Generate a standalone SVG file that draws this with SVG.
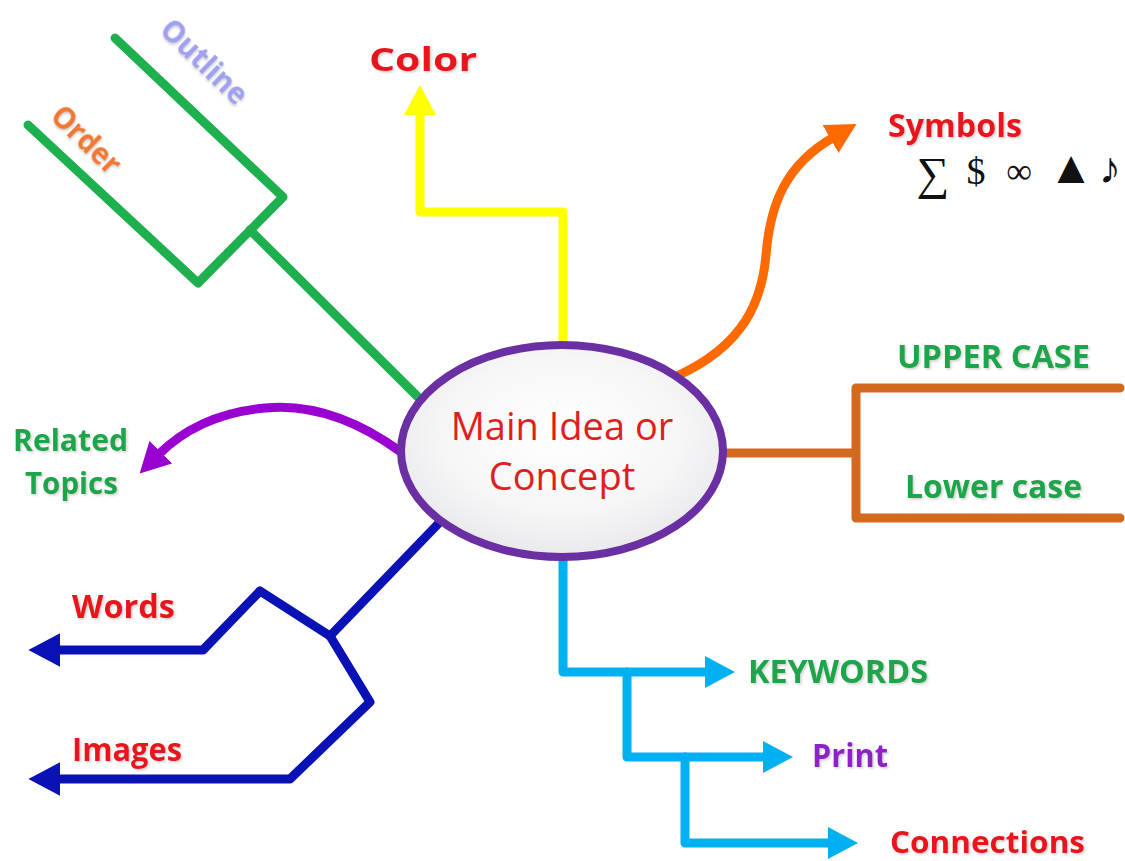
<svg xmlns="http://www.w3.org/2000/svg" width="1125" height="861" viewBox="0 0 1125 861">
<style>
.ln{fill:none;stroke-linecap:round;stroke-linejoin:round;stroke-width:9}
.lbl{font-family:"Open Sans","Liberation Sans",Arial,sans-serif;font-weight:bold;filter:url(#sh)}
.red{fill:#E8161E}.grn{fill:#1AA54B}
.sym{font-family:"Liberation Serif","DejaVu Serif",serif;fill:#111;text-anchor:middle}
</style>
<defs>
<filter id="sh" x="-10%" y="-20%" width="130%" height="150%">
<feDropShadow dx="1.5" dy="1.5" stdDeviation="1" flood-color="#888" flood-opacity="0.4"/>
</filter>
<radialGradient id="eg" cx="50%" cy="42%" r="62%">
<stop offset="0" stop-color="#ffffff"/><stop offset="0.6" stop-color="#f6f6f7"/><stop offset="1" stop-color="#e6e6ea"/>
</radialGradient>
<marker id="aY" viewBox="0 0 30 32" refX="4" refY="16" markerWidth="30" markerHeight="32" markerUnits="userSpaceOnUse" orient="auto"><path d="M0,0 L30,16 L0,32 z" fill="#FFFF00"/></marker>
<marker id="aO" viewBox="0 0 30 32" refX="4" refY="16" markerWidth="30" markerHeight="32" markerUnits="userSpaceOnUse" orient="auto"><path d="M0,0 L30,16 L0,32 z" fill="#FF6A00"/></marker>
<marker id="aP" viewBox="0 0 30 32" refX="4" refY="16" markerWidth="30" markerHeight="32" markerUnits="userSpaceOnUse" orient="auto"><path d="M0,0 L30,16 L0,32 z" fill="#9A00D0"/></marker>
<marker id="aB" viewBox="0 0 30 32" refX="4" refY="16" markerWidth="32" markerHeight="34" markerUnits="userSpaceOnUse" orient="auto"><path d="M0,0 L30,16 L0,32 z" fill="#0A12B5"/></marker>
<marker id="aC" viewBox="0 0 30 32" refX="4" refY="16" markerWidth="30" markerHeight="32" markerUnits="userSpaceOnUse" orient="auto"><path d="M0,0 L30,16 L0,32 z" fill="#00B0F0"/></marker>
</defs>
<rect width="1125" height="861" fill="#ffffff"/>
<g id="connectors">
<g stroke="#1EAF4E">
<path class="ln" d="M421,400 L250,230"/>
<path class="ln" d="M115,38 L283,197 L198,283 L28,125"/>
</g>
<path class="ln" stroke="#FFFF00" d="M563,347 L563,212 L420,212 L420,111" marker-end="url(#aY)"/>
<path class="ln" stroke="#FF6A00" d="M677,376 C745,345 762,300 766,255 C770,205 785,165 834,137" marker-end="url(#aO)"/>
<path class="ln" stroke="#D2691E" d="M722,453 L856,453 M1120,388 L856,388 L856,518 L1120,518"/>
<path class="ln" stroke="#9A00D0" d="M401,452 C350,415 305,404 265,408 C220,412 185,428 158,455" marker-end="url(#aP)"/>
<g stroke="#0A12B5">
<path class="ln" d="M438,524 L330,636"/>
<path class="ln" d="M330,636 L260,591 L203,650 L56,650" marker-end="url(#aB)"/>
<path class="ln" d="M330,636 L370,702 L290,779 L56,779" marker-end="url(#aB)"/>
</g>
<g stroke="#00B0F0">
<path class="ln" d="M563,558 L563,672 L709,672" marker-end="url(#aC)"/>
<path class="ln" d="M627,672 L627,757 L767,757" marker-end="url(#aC)"/>
<path class="ln" d="M685,757 L685,843 L832,843" marker-end="url(#aC)"/>
</g>
</g>
<g id="center">
<ellipse cx="562" cy="451" rx="161" ry="106" fill="url(#eg)" stroke="#6A2FA3" stroke-width="8"/>
<text x="562" y="440" text-anchor="middle" font-family="'Open Sans','Liberation Sans',sans-serif" font-size="38" fill="#E01E1E">Main Idea or</text>
<text x="562" y="490" text-anchor="middle" font-family="'Open Sans','Liberation Sans',sans-serif" font-size="38" fill="#E01E1E">Concept</text>
</g>
<g id="n-outline"><text class="lbl" x="204" y="72" text-anchor="middle" fill="#A0A0F0" style="font-size:31px" textLength="108" lengthAdjust="spacingAndGlyphs" transform="rotate(44 204 62)">Outline</text></g>
<g id="n-order"><text class="lbl" x="86" y="150" text-anchor="middle" fill="#F07830" style="font-size:31px" textLength="84" lengthAdjust="spacingAndGlyphs" transform="rotate(44 86 140)">Order</text></g>
<g id="n-color"><text class="lbl red" x="369" y="71" style="font-size:33px" textLength="108" lengthAdjust="spacingAndGlyphs">Color</text></g>
<g id="n-symbols">
<text class="lbl red" x="888" y="137" style="font-size:33px" textLength="134" lengthAdjust="spacingAndGlyphs">Symbols</text>
<text class="sym" x="933" y="189" style="font-size:46px">∑</text>
<text class="sym" x="976" y="184" style="font-size:38px">$</text>
<text class="sym" x="1019" y="183" style="font-size:36px">∞</text>
<text class="sym" x="1071" y="183" style="font-size:46px">▲</text>
<text class="sym" x="1110" y="183" style="font-size:44px">♪</text>
</g>
<g id="n-upper"><text class="lbl grn" x="897" y="368" style="font-size:33px" textLength="193" lengthAdjust="spacingAndGlyphs">UPPER CASE</text></g>
<g id="n-lower"><text class="lbl grn" x="905" y="498" style="font-size:33px" textLength="177" lengthAdjust="spacingAndGlyphs">Lower case</text></g>
<g id="n-related">
<text class="lbl grn" x="13" y="451" style="font-size:30px" textLength="115" lengthAdjust="spacingAndGlyphs">Related</text>
<text class="lbl grn" x="25" y="494" style="font-size:30px" textLength="93" lengthAdjust="spacingAndGlyphs">Topics</text>
</g>
<g id="n-words"><text class="lbl red" x="72" y="618" style="font-size:33px" textLength="103" lengthAdjust="spacingAndGlyphs">Words</text></g>
<g id="n-images"><text class="lbl red" x="72" y="761" style="font-size:33px" textLength="110" lengthAdjust="spacingAndGlyphs">Images</text></g>
<g id="n-keywords"><text class="lbl grn" x="748" y="683" style="font-size:33px" textLength="180" lengthAdjust="spacingAndGlyphs">KEYWORDS</text></g>
<g id="n-print"><text class="lbl" x="812" y="767" fill="#8E24C8" style="font-size:33px" textLength="76" lengthAdjust="spacingAndGlyphs">Print</text></g>
<g id="n-connections"><text class="lbl red" x="890" y="853" style="font-size:31px" textLength="195" lengthAdjust="spacingAndGlyphs">Connections</text></g>
</svg>
